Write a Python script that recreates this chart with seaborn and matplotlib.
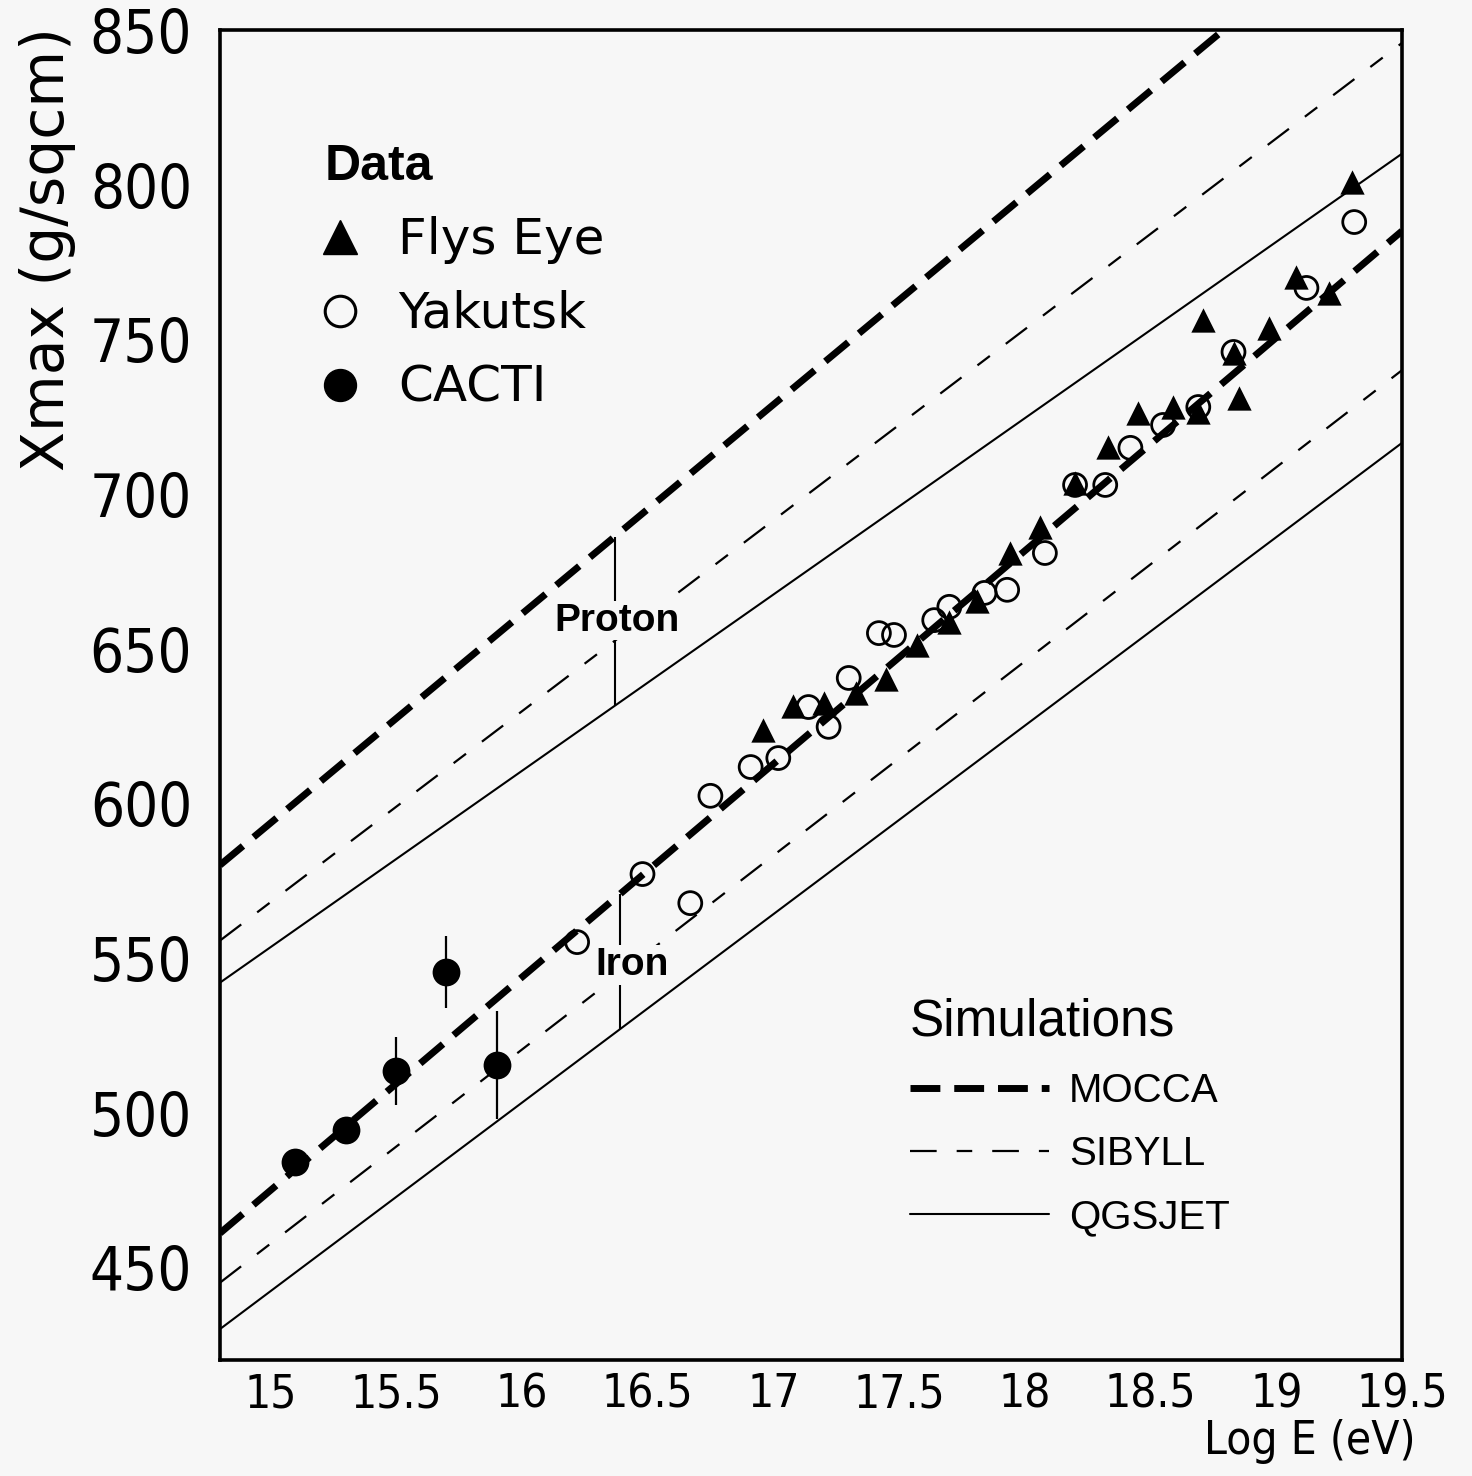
import numpy as np
import pandas as pd
import matplotlib
matplotlib.use("Agg")
import matplotlib.pyplot as plt
import seaborn as sns
from matplotlib import font_manager as fm
from matplotlib.lines import Line2D
from matplotlib.ticker import MultipleLocator, FixedLocator, FixedFormatter

# ---------------- data ----------------
flys_eye_logE = [16.96, 17.08, 17.20, 17.33, 17.45, 17.57, 17.70, 17.81, 17.94, 18.06,
                 18.20, 18.33, 18.45, 18.59, 18.69, 18.71, 18.83, 18.85, 18.97, 19.08,
                 19.21, 19.30]
flys_eye_xmax = [623.7, 631.4, 632.4, 635.6, 640.2, 651.2, 658.6, 665.4, 680.9, 689.3,
                 703.5, 715.2, 726.2, 728.1, 726.5, 756.2, 745.6, 731.0, 753.7, 770.1,
                 765.0, 800.9]

yakutsk_logE = [16.22, 16.48, 16.67, 16.75, 16.91, 17.02, 17.14, 17.22, 17.30, 17.42,
                17.48, 17.64, 17.70, 17.84, 17.93, 18.08, 18.20, 18.32, 18.42, 18.55,
                18.69, 18.83, 19.12, 19.31]
yakutsk_xmax = [555.1, 577.1, 567.7, 602.4, 611.7, 614.6, 631.1, 624.7, 640.5, 655.0,
                654.4, 659.2, 663.5, 668.0, 669.0, 680.9, 702.9, 702.9, 714.9, 722.3,
                728.1, 745.9, 766.6, 787.9]

cacti_logE = [15.1, 15.3, 15.5, 15.7, 15.9]
cacti_xmax = [484.0, 494.4, 513.5, 545.5, 515.4]
cacti_err = [3.0, 3.0, 11.0, 11.6, 17.5]

line_logE = [14.8, 19.5]
mocca_proton = [580.0, 898.0]
mocca_iron = [461.0, 785.0]
sibyll_proton = [555.6, 845.8]
sibyll_iron = [445.0, 740.0]
qgsjet_proton = [542.0, 810.0]
qgsjet_iron = [430.0, 716.5]

models = ["MOCCA", "SIBYLL", "QGSJET"]
data_labels = ["Flys Eye", "Yakutsk", "CACTI"]
x_ticks = [15, 15.5, 16, 16.5, 17, 17.5, 18, 18.5, 19, 19.5]
x_tick_labels = ["15", "15.5", "16", "16.5", "17", "17.5", "18", "18.5", "19", "19.5"]
y_ticks = [450, 500, 550, 600, 650, 700, 750, 800, 850]

# ---------------- style ----------------
BG = "#f7f7f7"
sns.set_theme(style="white")
plt.rcParams["font.family"] = ["DejaVu Sans"]
for k in ["text.color", "axes.labelcolor", "xtick.color", "ytick.color", "axes.edgecolor"]:
    plt.rcParams[k] = "black"

avail = {f.name for f in fm.fontManager.ttflist}
ARIAL = "Liberation Sans" if "Liberation Sans" in avail else "DejaVu Sans"


def _stretch(f):
    s = f.stretch
    if isinstance(s, str):
        s = fm.stretch_dict.get(s, 500)
    return s


def _weight(f):
    w = f.weight
    if isinstance(w, str):
        w = fm.weight_dict.get(w, 400)
    return w


narrow_path = None
cands = [f for f in fm.fontManager.ttflist
         if _stretch(f) <= 400 and f.style == "normal" and 250 <= _weight(f) <= 400]
if cands:
    def _rank(f):
        pref = 0 if ("Sans" in f.name and "Mono" not in f.name) else 1
        return (pref, abs(_weight(f) - 350), _stretch(f))
    cands.sort(key=_rank)
    narrow_path = cands[0].fname

if narrow_path:
    NARROW_FP = lambda size: fm.FontProperties(fname=narrow_path, size=size)
    ysz, xsz, lsz = 43, 33, 33
else:
    NARROW_FP = lambda size: fm.FontProperties(family="DejaVu Sans", size=size)
    ysz, xsz, lsz = 35, 30, 30

fig = plt.figure(figsize=(14.72, 14.76), dpi=100, facecolor=BG)
ax = fig.add_axes([220 / 1472, 0.0786, 1182 / 1472, 0.9011], facecolor=BG)

# ---------------- simulation lines ----------------
line_styles = {
    "MOCCA": dict(lw=5.0, linestyle=(0, (4.3, 2.0))),
    "SIBYLL": dict(lw=1.6, linestyle=(0, (12, 9, 7, 9))),
    "QGSJET": dict(lw=1.5, linestyle="-"),
}
line_vals = {
    "MOCCA": [mocca_proton, mocca_iron],
    "SIBYLL": [sibyll_proton, sibyll_iron],
    "QGSJET": [qgsjet_proton, qgsjet_iron],
}
for m in models:
    for vals in line_vals[m]:
        sns.lineplot(x=line_logE, y=vals, ax=ax, color="black", **line_styles[m])

# ---------------- data points ----------------
ax.errorbar(cacti_logE, cacti_xmax, yerr=cacti_err, fmt="none", ecolor="black",
            elinewidth=1.6, capsize=0, zorder=3)
sns.scatterplot(x=cacti_logE, y=cacti_xmax, ax=ax, marker="o", s=20 ** 2,
                color="black", edgecolor="black", linewidth=0, zorder=4)
sns.scatterplot(x=yakutsk_logE, y=yakutsk_xmax, ax=ax, marker="o", s=16.5 ** 2,
                facecolors="none", edgecolor="black", linewidth=2.0, zorder=4)
sns.scatterplot(x=flys_eye_logE, y=flys_eye_xmax, ax=ax, marker="^", s=17.5 ** 2,
                color="black", edgecolor="black", linewidth=0, zorder=5)

# ---------------- proton / iron markers ----------------
xp, xi = 16.37, 16.39
ax.vlines(xp, np.interp(xp, line_logE, qgsjet_proton), np.interp(xp, line_logE, mocca_proton),
          color="black", lw=1.5, zorder=2)
ax.vlines(xi, np.interp(xi, line_logE, qgsjet_iron), np.interp(xi, line_logE, mocca_iron),
          color="black", lw=1.5, zorder=2)
ax.text(16.38, 659.0, "Proton", ha="center", va="center", fontsize=28, fontweight="bold",
        family=ARIAL, color="black", zorder=6, bbox=dict(facecolor=BG, edgecolor="none", pad=1))
ax.text(16.44, 547.7, "Iron", ha="center", va="center", fontsize=28, fontweight="bold",
        family=ARIAL, color="black", zorder=6, bbox=dict(facecolor=BG, edgecolor="none", pad=1))

# ---------------- axes ----------------
ax.set_xlim(14.8, 19.5)
ax.set_ylim(420, 850)
ax.xaxis.set_major_locator(FixedLocator(x_ticks))
ax.xaxis.set_major_formatter(FixedFormatter(x_tick_labels))
ax.xaxis.set_minor_locator(MultipleLocator(0.1))
ax.yaxis.set_major_locator(FixedLocator(y_ticks))
ax.yaxis.set_minor_locator(MultipleLocator(10))
ax.tick_params(axis="both", which="both", direction="in", top=False, right=False,
               color="black", labelcolor="black")
ax.tick_params(axis="y", which="major", length=23, width=2.2, pad=20)
ax.tick_params(axis="y", which="minor", length=12, width=2.2)
ax.tick_params(axis="x", which="major", length=18, width=2.0, pad=9)
ax.tick_params(axis="x", which="minor", length=10, width=2.0)
for lab in ax.get_yticklabels():
    lab.set_fontproperties(NARROW_FP(ysz))
for lab in ax.get_xticklabels():
    lab.set_fontproperties(NARROW_FP(xsz))
for sp in ax.spines.values():
    sp.set_visible(True)
    sp.set_color("black")
    sp.set_linewidth(2.6)

ax.set_ylabel("Xmax (g/sqcm)", fontsize=42, family="DejaVu Sans", color="black")
ax.yaxis.set_label_coords(-0.122, 0.835)
ax.set_xlabel("Log E (eV)", fontproperties=NARROW_FP(lsz), color="black")
ax.xaxis.set_label_coords(0.922, -0.044)

# ---------------- legends ----------------
h_data = [Line2D([], [], ls="none", marker="^", ms=24, color="black"),
          Line2D([], [], ls="none", marker="o", ms=22, mfc="none", mec="black", mew=2.2),
          Line2D([], [], ls="none", marker="o", ms=23, color="black")]
leg1 = ax.legend(h_data, data_labels, title="Data", loc="upper left",
                 bbox_to_anchor=(325 / 1472, 1 - 144 / 1476), bbox_transform=fig.transFigure,
                 frameon=False, prop={"family": "DejaVu Sans", "size": 36},
                 title_fontproperties={"family": ARIAL, "weight": "bold", "size": 36},
                 handlelength=0.6, handletextpad=0.86, labelspacing=0.52,
                 borderpad=0, borderaxespad=0, alignment="left", labelcolor="black")
leg1.get_title().set_color("black")
ax.add_artist(leg1)

h_sim = [Line2D([], [], color="black", **line_styles[m]) for m in models]
leg2 = ax.legend(h_sim, models, title="Simulations", loc="upper left",
                 bbox_to_anchor=(910 / 1472, 1 - 998 / 1476), bbox_transform=fig.transFigure,
                 frameon=False, prop={"family": ARIAL, "size": 29},
                 title_fontproperties={"family": ARIAL, "size": 37},
                 handlelength=3.45, handletextpad=0.5, labelspacing=0.62,
                 borderpad=0, borderaxespad=0, alignment="left", labelcolor="black")
leg2.get_title().set_color("black")

fig.savefig("out.png", dpi=100, facecolor=BG)
